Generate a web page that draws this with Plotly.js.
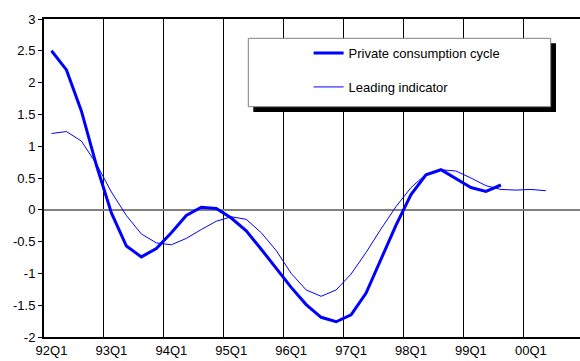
<!DOCTYPE html>
<html>
<head>
<meta charset="utf-8">
<script src="https://cdn.plot.ly/plotly-3.0.1.min.js"></script>
<style>html,body{margin:0;padding:0;background:#fff;}#chart{width:580px;height:361px;}</style>
</head>
<body>
<div id="chart"></div>
<script>
var quarters = ["92Q1","92Q2","92Q3","92Q4","93Q1","93Q2","93Q3","93Q4",
  "94Q1","94Q2","94Q3","94Q4","95Q1","95Q2","95Q3","95Q4",
  "96Q1","96Q2","96Q3","96Q4","97Q1","97Q2","97Q3","97Q4",
  "98Q1","98Q2","98Q3","98Q4","99Q1","99Q2","99Q3","99Q4",
  "00Q1","00Q2"];
var privateConsumption = [2.50, 2.20, 1.55, 0.70, -0.05, -0.57, -0.74, -0.61,
  -0.36, -0.09, 0.04, 0.02, -0.13, -0.33, -0.62, -0.92,
  -1.22, -1.49, -1.69, -1.76, -1.65, -1.31, -0.76, -0.24,
  0.24, 0.55, 0.63, 0.49, 0.35, 0.29, 0.39];
var leadingIndicator = [1.20, 1.23, 1.08, 0.72, 0.28, -0.09, -0.38, -0.52,
  -0.55, -0.45, -0.31, -0.18, -0.11, -0.15, -0.36, -0.64,
  -1.00, -1.26, -1.36, -1.26, -1.01, -0.67, -0.30, 0.05,
  0.35, 0.56, 0.63, 0.61, 0.50, 0.38, 0.32, 0.31,
  0.32, 0.30];
var yTickVals = [-2, -1.5, -1, -0.5, 0, 0.5, 1, 1.5, 2, 2.5, 3];
var yTickText = ["-2", "-1.5", "-1", "-0.5", "0", "0.5", "1", "1.5", "2", "2.5", "3"];
var seriesNames = ["Private consumption cycle", "Leading indicator"];

var traces = [
  {x: quarters.slice(0, privateConsumption.length), y: privateConsumption, type: "scatter", mode: "lines",
   name: seriesNames[0], legendgroup: "a", line: {color: "#0000FF", width: 3}},
  {x: quarters.slice(0, leadingIndicator.length), y: leadingIndicator, type: "scatter", mode: "lines",
   name: seriesNames[1], legendgroup: "b", line: {color: "#0000FF", width: 1}}
];

var layout = {
  width: 580, height: 361,
  margin: {l: 44, r: 0, t: 19, b: 24, pad: 0},
  paper_bgcolor: "#ffffff", plot_bgcolor: "#ffffff",
  font: {family: "Liberation Sans, Arial, sans-serif", size: 13, color: "#000"},
  showlegend: true,
  legend: {x: 0.4937, y: 0.94, xanchor: "left", yanchor: "top", bgcolor: "rgba(0,0,0,0)",
    borderwidth: 0, tracegroupgap: 14, traceorder: "grouped", font: {size: 13, color: "#000"}},
  xaxis: {type: "category", categoryorder: "array", categoryarray: quarters,
    range: [-0.5, 35.28], tickmode: "linear", tick0: 0, dtick: 4, tickson: "boundaries",
    ticks: "", tickangle: 0, showgrid: true, gridcolor: "#000", gridwidth: 1,
    showline: true, linecolor: "#000", linewidth: 2, mirror: true,
    ticklabelstandoff: 0, tickfont: {size: 13}, fixedrange: true},
  yaxis: {range: [-2, 3], tickmode: "array", tickvals: yTickVals, ticktext: yTickText,
    ticks: "outside", ticklen: 4, tickwidth: 1, tickcolor: "#000",
    showgrid: false, zeroline: true, zerolinecolor: "#808080", zerolinewidth: 2,
    showline: true, linecolor: "#000", linewidth: 2, tickfont: {size: 13}, fixedrange: true},
  shapes: [
    {type: "rect", xref: "paper", yref: "paper", x0: 0.3905, x1: 0.9552, y0: 0.7075, y1: 0.9236,
     fillcolor: "#000", line: {width: 0}, layer: "above"},
    {type: "rect", xref: "paper", yref: "paper", x0: 0.3812, x1: 0.9453, y0: 0.7242, y1: 0.9393,
     fillcolor: "#fff", line: {color: "#808080", width: 1}, layer: "above"}
  ]
};

Plotly.newPlot("chart", traces, layout, {displayModeBar: false, staticPlot: true});
</script>
</body>
</html>
